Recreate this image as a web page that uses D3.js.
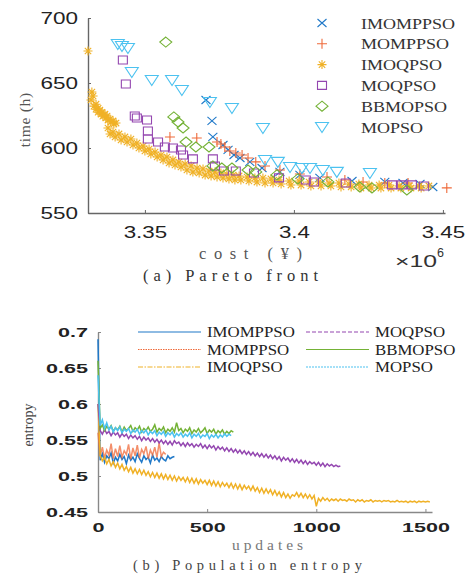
<!DOCTYPE html>
<html>
<head>
<meta charset="utf-8">
<script src="https://cdn.jsdelivr.net/npm/d3@7"></script>
<style>
  body { margin: 0; background: #fff; }
  svg { display: block; }
</style>
</head>
<body>
<svg id="chart"></svg>
<script>
const W = 468, H = 575;

// ---- data ----
const algorithms = ['IMOMPPSO', 'MOMPPSO', 'IMOQPSO', 'MOQPSO', 'BBMOPSO', 'MOPSO'];
const colors = ['#1f78c8', '#ef6a3a', '#f0b126', '#9447b0', '#74b236', '#4cc2f0'];
const markers = ['x', '+', '*', 'square', 'diamond', 'triangle'];
const dashes = [null, '1.5,1', '5,1.5,1.5,1.5', '4,2', null, '2,1'];

const costTicks = [3.35, 3.4, 3.45];
const timeTicks = [550, 600, 650, 700];
const entropyTicks = [0.45, 0.5, 0.55, 0.6, 0.65, 0.7];
const updateTicks = [0, 500, 1000, 1500];

// pareto fronts: [cost (x10^6), time (h)]
const paretoIMOMPPSO = [[3.3705,636.9],[3.3725,620.8],[3.3728,608.5],[3.3762,602.3],[3.3779,598.5],[3.3799,594.6],
  [3.3819,592.3],[3.3852,589.3],[3.3893,584.6],[3.3953,581.6],[3.4020,579.3],[3.4087,577.0],[3.4195,574.6],
  [3.4305,573.9],[3.4366,573.1],[3.4423,572.3],[3.4466,570.0]];
const paretoMOMPPSO = [[3.3584,608.5],[3.3674,607.7],[3.3742,604.6],[3.3755,603.1],[3.3768,600.8],[3.3785,597.7],
  [3.3805,596.2],[3.3826,594.6],[3.3846,592.3],[3.3872,589.3],[3.3903,586.2],[3.3953,583.1],[3.4020,580.0],
  [3.4111,577.7],[3.4171,575.4],[3.4232,573.9],[3.4305,573.1],[3.4383,573.1],[3.4513,569.3]];
const paretoIMOQPSO = [[3.3309,674.6],[3.3322,643.1],[3.3326,640.0],[3.3319,636.9],
  [3.3329,632.2],[3.3336,633.7],[3.3336,629.8],[3.3343,630.6],[3.3343,627.5],[3.3349,629.1],[3.3353,626.0],
  [3.3356,627.5],[3.3359,624.4],[3.3366,626.0],[3.3369,623.1],[3.3373,624.6],[3.3376,621.5],[3.3383,622.3],
  [3.3386,620.0],[3.3393,620.8],[3.3396,618.5],[3.3403,619.2],
  [3.3376,615.4],[3.3383,610.8],[3.3393,612.3],[3.3400,608.5],[3.3413,610.8],[3.3420,606.2],[3.3433,608.5],
  [3.3440,604.6],[3.3453,606.9],[3.3460,602.3],[3.3473,603.8],[3.3480,600.0],[3.3494,601.5],[3.3500,597.7],
  [3.3514,599.2],[3.3520,595.4],[3.3534,596.9],[3.3541,593.1],[3.3554,594.6],[3.3561,590.8],[3.3574,593.1],
  [3.3581,588.5],[3.3594,590.8],[3.3601,586.9],[3.3614,589.2],[3.3621,585.4],[3.3635,587.7],[3.3641,583.1],
  [3.3655,586.2],[3.3661,581.5],[3.3675,584.6],[3.3682,580.8],[3.3695,583.9],[3.3702,579.2],[3.3715,582.3],
  [3.3722,578.5],[3.3735,581.5],[3.3742,577.7],[3.3755,580.8],[3.3762,576.9],[3.3775,580.0],[3.3782,576.2],
  [3.3796,579.2],[3.3802,575.4],[3.3816,578.5],[3.3822,575.4],[3.3843,577.7],[3.3849,574.6],[3.3869,576.9],
  [3.3876,573.8],[3.3896,576.9],[3.3903,573.1],[3.3923,576.2],[3.3930,573.1],[3.3950,575.4],[3.3957,572.3],
  [3.3984,574.6],[3.3990,571.5],[3.4017,574.6],[3.4024,571.5],[3.4051,573.8],[3.4057,570.8],[3.4084,573.8],
  [3.4091,570.8],[3.4118,573.1],[3.4124,570.8],[3.4151,573.1],[3.4158,570.0],[3.4185,572.3],[3.4192,570.0],
  [3.4218,572.3],[3.4225,569.2],[3.4252,571.5],[3.4259,569.2],[3.4286,571.5],[3.4292,569.2],[3.4319,571.5],
  [3.4326,569.2],[3.4353,570.8],[3.4359,569.2],[3.4386,570.8],[3.4393,569.2],[3.4420,570.8],[3.4427,569.2],
  [3.4453,570.8]];
const paretoMOQPSO = [[3.3426,667.7],[3.3436,649.2],[3.3466,624.6],[3.3473,623.1],[3.3507,621.5],[3.3510,613.1],
  [3.3510,606.9],[3.3544,604.6],[3.3567,600.8],[3.3594,600.0],[3.3621,598.5],[3.3628,594.6],[3.3661,591.6],
  [3.3728,591.6],[3.3735,586.2],[3.3765,582.3],[3.3805,582.3],[3.3866,580.8],[3.3950,577.0],[3.4040,575.4],
  [3.4067,573.9],[3.4174,573.1],[3.4329,571.6],[3.4362,571.6],[3.4396,571.6],[3.4436,570.8]];
const paretoBBMOPSO = [[3.3570,681.5],[3.3597,623.9],[3.3611,620.0],[3.3628,615.4],[3.3638,604.6],[3.3671,600.8],
  [3.3715,600.8],[3.3728,586.2],[3.3758,584.6],[3.3792,584.6],[3.3846,583.1],[3.3872,581.6],[3.3943,579.3],
  [3.4013,576.2],[3.4114,573.9],[3.4221,570.0],[3.4262,569.3],[3.4379,567.7]];
const paretoMOPSO = [[3.3409,680.0],[3.3423,678.5],[3.3443,676.9],[3.3456,658.5],[3.3523,652.3],[3.3591,652.3],
  [3.3624,644.6],[3.3718,635.4],[3.3792,630.8],[3.3896,615.4],[3.3903,590.8],[3.3946,589.3],[3.3987,585.4],
  [3.4027,584.6],[3.4054,584.6],[3.4097,583.1],[3.4144,581.6],[3.4255,580.8]];

// population entropy, one value every 10 updates
const updateStep = 10;
const entropyIMOMPPSO = [0.690,0.522,0.531,0.519,0.528,0.524,0.532,0.518,0.526,0.521,0.530,0.523,0.527,0.517,
  0.529,0.522,0.526,0.520,0.531,0.524,0.519,0.528,0.523,0.526,0.518,0.529,0.522,0.525,0.520,0.527,0.523,0.521,
  0.528,0.524,0.526,0.527];
const entropyMOMPPSO = [0.560,0.528,0.540,0.525,0.536,0.529,0.545,0.524,0.538,0.527,0.542,0.526,0.535,0.530,
  0.544,0.523,0.539,0.528,0.543,0.525,0.537,0.531,0.541,0.524,0.536,0.529,0.540,0.526,0.546,0.527,0.533,0.530];
const entropyIMOQPSO = [0.600,0.528,0.521,0.526,0.517,0.523,0.514,0.520,0.512,0.518,
  0.510,0.516,0.508,0.513,0.506,0.512,0.504,0.510,0.503,0.509,
  0.502,0.508,0.501,0.506,0.499,0.505,0.498,0.504,0.497,0.503,
  0.496,0.502,0.495,0.501,0.494,0.500,0.493,0.499,0.494,0.498,
  0.492,0.498,0.491,0.497,0.490,0.496,0.489,0.495,0.490,0.494,
  0.488,0.494,0.487,0.493,0.486,0.492,0.485,0.491,0.486,0.490,
  0.484,0.490,0.483,0.489,0.482,0.488,0.481,0.487,0.482,0.486,
  0.480,0.486,0.479,0.484,0.477,0.483,0.476,0.482,0.476,0.481,
  0.474,0.480,0.473,0.478,0.471,0.477,0.470,0.475,0.469,0.474,
  0.472,0.477,0.471,0.476,0.470,0.475,0.469,0.474,0.468,0.473,
  0.458,0.469,0.465,0.470,0.466,0.469,0.465,0.468,0.466,0.468,
  0.465,0.468,0.466,0.467,0.465,0.468,0.466,0.467,0.464,0.467,
  0.465,0.467,0.464,0.466,0.465,0.467,0.464,0.466,0.465,0.466,
  0.464,0.466,0.465,0.466,0.464,0.465,0.464,0.466,0.464,0.465,
  0.464,0.465,0.463,0.465,0.464,0.465,0.463,0.465,0.464,0.465,
  0.464,0.465,0.464];
const entropyMOQPSO = [0.600,0.563,0.558,0.565,0.559,0.562,0.556,0.561,0.557,0.560,
  0.554,0.559,0.555,0.558,0.552,0.557,0.553,0.556,0.551,0.555,
  0.549,0.554,0.550,0.553,0.548,0.552,0.547,0.551,0.546,0.550,
  0.545,0.549,0.544,0.548,0.543,0.549,0.545,0.547,0.542,0.546,
  0.541,0.546,0.542,0.545,0.540,0.544,0.541,0.545,0.539,0.543,
  0.538,0.543,0.539,0.542,0.536,0.541,0.537,0.540,0.535,0.539,
  0.534,0.538,0.533,0.537,0.532,0.536,0.531,0.535,0.530,0.534,
  0.529,0.533,0.528,0.532,0.527,0.531,0.526,0.530,0.525,0.529,
  0.524,0.528,0.523,0.527,0.521,0.526,0.522,0.525,0.520,0.524,
  0.519,0.523,0.518,0.522,0.517,0.521,0.516,0.520,0.517,0.519,
  0.515,0.519,0.514,0.518,0.513,0.517,0.514,0.516,0.513,0.515,
  0.513,0.514];
const entropyBBMOPSO = [0.660,0.566,0.571,0.563,0.569,0.565,0.570,0.562,0.567,0.564,0.569,0.561,0.568,0.563,
  0.566,0.570,0.562,0.567,0.564,0.569,0.561,0.566,0.563,0.568,0.562,0.565,0.571,0.561,0.566,0.563,0.568,0.560,
  0.565,0.562,0.567,0.561,0.574,0.563,0.566,0.560,0.565,0.562,0.567,0.559,0.564,0.561,0.566,0.560,0.563,0.567,
  0.559,0.564,0.561,0.565,0.558,0.563,0.560,0.564,0.558,0.562,0.559,0.563,0.561];
const entropyMOPSO = [0.640,0.570,0.578,0.566,0.574,0.564,0.569,0.561,0.567,0.563,0.568,0.560,0.565,0.562,
  0.566,0.559,0.564,0.561,0.565,0.558,0.563,0.560,0.564,0.557,0.562,0.559,0.563,0.556,0.561,0.558,0.562,0.555,
  0.560,0.557,0.561,0.554,0.559,0.556,0.560,0.554,0.558,0.555,0.560,0.553,0.558,0.555,0.559,0.553,0.557,0.555,
  0.559,0.552,0.557,0.554,0.558,0.553,0.557,0.554,0.559,0.555,0.558,0.556];

const paretoSeries = [paretoIMOMPPSO, paretoMOMPPSO, paretoIMOQPSO, paretoMOQPSO, paretoBBMOPSO, paretoMOPSO];
const entropySeries = [entropyIMOMPPSO, entropyMOMPPSO, entropyIMOQPSO, entropyMOQPSO, entropyBBMOPSO, entropyMOPSO];

// ---- helpers ----
const svg = d3.select('#chart').attr('width', W).attr('height', H);
svg.append('rect').attr('width', W).attr('height', H).attr('fill', '#fff');

function markerPath(type) {
  switch (type) {
    case 'x': return 'M-4.5,-4L4.5,4M-4.5,4L4.5,-4';
    case '+': return 'M-5,0L5,0M0,-5L0,5';
    case '*': return 'M-4.5,0L4.5,0M0,-4.5L0,4.5M-3.2,-3.2L3.2,3.2M-3.2,3.2L3.2,-3.2';
    case 'square': return 'M-4.5,-4H4.5V4H-4.5Z';
    case 'diamond': return 'M0,-5L6,0L0,5L-6,0Z';
    default: return 'M-6.5,-4.5H6.5L0,5.5Z';
  }
}

// stretch tick labels to the wide look of the picture
function widenTicks(g, digitW, dotW) {
  g.selectAll('.tick text').each(function () {
    const s = this.textContent;
    const dots = (s.match(/\./g) || []).length;
    d3.select(this).attr('textLength', (s.length - dots) * digitW + dots * dotW)
      .attr('lengthAdjust', 'spacingAndGlyphs');
  });
}

function widen(sel, k, adjust) {
  sel.each(function () {
    const w = this.getComputedTextLength();
    d3.select(this).attr('textLength', w * k).attr('lengthAdjust', adjust || 'spacingAndGlyphs');
  });
}

function styleAxis(g, color) {
  g.select('.domain').attr('stroke', color).attr('stroke-width', 1.4);
  g.selectAll('.tick line').attr('stroke', color).attr('stroke-width', 1);
}

// ---- (a) Pareto front ----
const x = d3.scaleLinear().domain([3.3309, 3.4507]).range([88, 445]);
const y = d3.scaleLinear().domain([550, 700]).range([213, 18]);

const panelA = svg.append('g');

const xAxis = panelA.append('g').attr('transform', 'translate(0,213)')
  .call(d3.axisBottom(x).tickValues(costTicks).tickFormat(d => String(d))
    .tickSizeInner(-3).tickSizeOuter(0).tickPadding(13));
const yAxis = panelA.append('g').attr('transform', 'translate(88,0)')
  .call(d3.axisLeft(y).tickValues(timeTicks).tickSizeInner(-3).tickSizeOuter(0).tickPadding(10));
[xAxis, yAxis].forEach(g => {
  styleAxis(g, '#666');
  g.selectAll('.tick text').attr('font-family', 'Liberation Sans, Arial, sans-serif')
    .attr('font-size', 17).attr('fill', '#222');
  widenTicks(g, 12.5, 6);
});

paretoSeries.forEach((pts, i) => {
  panelA.append('g').selectAll('path').data(pts).join('path')
    .attr('transform', d => `translate(${x(d[0])},${y(d[1])})`)
    .attr('d', markerPath(markers[i]))
    .attr('fill', 'none')
    .attr('stroke', colors[i])
    .attr('stroke-width', 1.1);
});

// legend
const legA = panelA.append('g');
algorithms.forEach((name, i) => {
  const ly = 23 + i * 20.8;
  legA.append('path').attr('transform', `translate(322,${ly})`)
    .attr('d', markerPath(markers[i])).attr('fill', 'none')
    .attr('stroke', colors[i]).attr('stroke-width', 1.1);
  legA.append('text').attr('x', 361).attr('y', ly + 5.5)
    .attr('font-family', 'Liberation Serif, Times New Roman, serif').attr('font-size', 15)
    .attr('fill', '#333').text(name);
});
widen(legA.selectAll('text'), 1.2);

panelA.append('text').attr('transform', 'translate(30,120) rotate(-90)')
  .attr('text-anchor', 'middle').attr('font-family', 'Liberation Serif, serif')
  .attr('font-size', 15.5).attr('fill', '#555').text('time (h)')
  .call(s => widen(s, 1.1, 'spacing'));
panelA.append('text').attr('x', 199).attr('y', 259)
  .attr('font-family', 'Liberation Serif, serif').attr('font-size', 16.5)
  .attr('fill', '#555').attr('textLength', 103).attr('lengthAdjust', 'spacing').text('cost (¥)');
const expo = panelA.append('text').attr('x', 395).attr('y', 267)
  .attr('font-family', 'Liberation Sans, Arial, sans-serif').attr('font-size', 17).attr('fill', '#333');
expo.append('tspan').attr('textLength', 42).attr('lengthAdjust', 'spacingAndGlyphs').text('×10');
expo.append('tspan').attr('dy', -10).attr('font-size', 12.5).text('6');
panelA.append('text').attr('x', 143).attr('y', 281)
  .attr('font-family', 'Liberation Serif, serif').attr('font-size', 16.5)
  .attr('fill', '#333').attr('textLength', 175).attr('lengthAdjust', 'spacing').text('(a) Pareto front');

// ---- (b) Population entropy ----
const xU = d3.scaleLinear().domain([0, 1530]).range([98, 432]);
const yE = d3.scaleLinear().domain([0.45, 0.7]).range([512, 332]);

const panelB = svg.append('g');

const xAxisB = panelB.append('g').attr('transform', 'translate(0,512)')
  .call(d3.axisBottom(xU).tickValues(updateTicks).tickFormat(d => String(d))
    .tickSizeInner(-3).tickSizeOuter(0).tickPadding(11));
const yAxisB = panelB.append('g').attr('transform', 'translate(98,0)')
  .call(d3.axisLeft(yE).tickValues(entropyTicks).tickFormat(d => String(d))
    .tickSizeInner(-3).tickSizeOuter(0).tickPadding(10));
[xAxisB, yAxisB].forEach(g => {
  styleAxis(g, '#888');
  g.selectAll('.tick text').attr('font-family', 'Liberation Sans, Arial, sans-serif')
    .attr('font-size', 12.5).attr('font-weight', 'bold').attr('fill', '#222');
  widenTicks(g, 12, 6);
});

// noisy traces read as dense bands, so the plot lines are drawn solid and a bit heavy
const line = d3.line().x((d, i) => xU(i * updateStep)).y(d => yE(d));
entropySeries.forEach((vals, i) => {
  panelB.append('path').datum(vals)
    .attr('d', line)
    .attr('fill', 'none')
    .attr('stroke', colors[i])
    .attr('stroke-opacity', i === 1 ? 0.75 : 1)
    .attr('stroke-width', 1.5);
});

// legend, two columns
const legB = panelB.append('g');
algorithms.forEach((name, i) => {
  const col = Math.floor(i / 3), row = i % 3;
  const ly = 332 + row * 17.5;
  const x0 = col === 0 ? 138 : 306;
  legB.append('line').attr('x1', x0).attr('x2', x0 + 63).attr('y1', ly).attr('y2', ly)
    .attr('stroke', colors[i]).attr('stroke-width', 1.2)
    .attr('stroke-dasharray', dashes[i]);
  legB.append('text').attr('x', x0 + 69).attr('y', ly + 5)
    .attr('font-family', 'Liberation Serif, Times New Roman, serif').attr('font-size', 14)
    .attr('fill', '#222').text(name);
});
widen(legB.selectAll('text'), 1.2);

panelB.append('text').attr('transform', 'translate(33,425) rotate(-90)')
  .attr('text-anchor', 'middle').attr('font-family', 'Liberation Serif, serif')
  .attr('font-size', 14).attr('fill', '#444').text('entropy');
panelB.append('text').attr('x', 232).attr('y', 550)
  .attr('font-family', 'Liberation Serif, serif').attr('font-size', 15.5)
  .attr('fill', '#777').attr('textLength', 71).attr('lengthAdjust', 'spacing').text('updates');
panelB.append('text').attr('x', 133).attr('y', 570)
  .attr('font-family', 'Liberation Serif, serif').attr('font-size', 14.5)
  .attr('fill', '#444').attr('textLength', 229).attr('lengthAdjust', 'spacing').text('(b) Population entropy');
</script>
</body>
</html>
